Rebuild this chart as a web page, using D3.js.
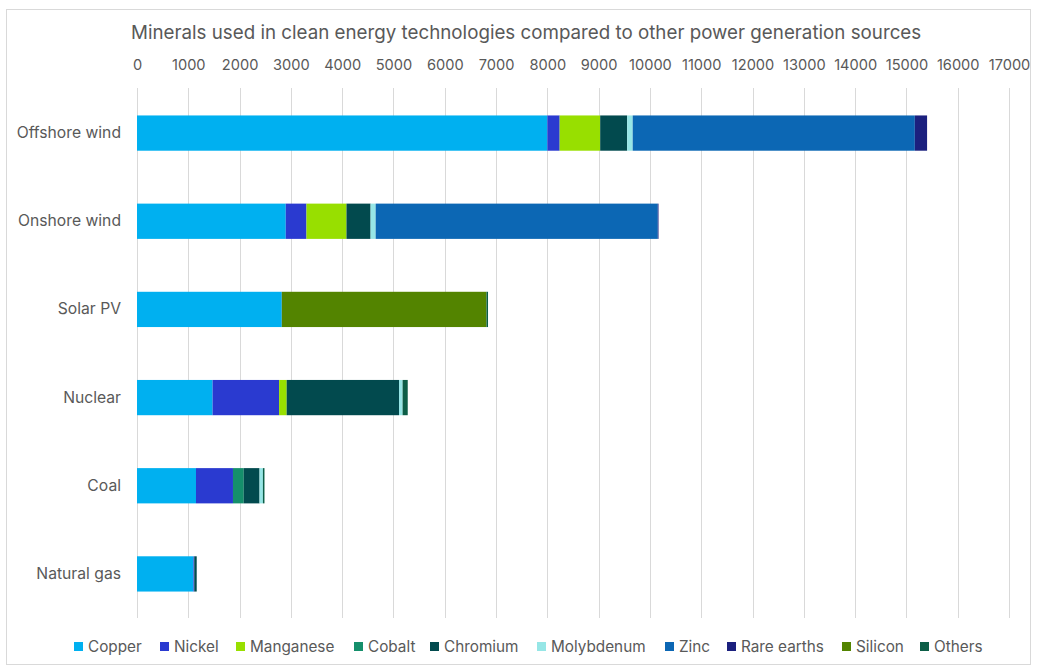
<!DOCTYPE html>
<html>
<head>
<meta charset="utf-8">
<script src="https://cdn.jsdelivr.net/npm/d3@7"></script>
<style>
  html, body { margin: 0; padding: 0; background: #fff; }
  svg text { font-family: Inter, "Noto Sans", sans-serif; fill: #595959; }
</style>
</head>
<body>
<svg id="chart" width="1037" height="667"></svg>
<script>
// Mineral intensity per power technology (kg/MW)
const categories = ["Offshore wind", "Onshore wind", "Solar PV", "Nuclear", "Coal", "Natural gas"];
const minerals = ["Copper", "Nickel", "Manganese", "Cobalt", "Chromium", "Molybdenum", "Zinc", "Rare earths", "Silicon", "Others"];
const mineralColors = ["#00B0F0", "#2A3AD0", "#98DF00", "#158F6B", "#024A4E", "#96E6E6", "#0C67B4", "#1B207E", "#538400", "#0C5E47"];

const copper     = [8000, 2900, 2822, 1473, 1150, 1100];
const nickel     = [240, 404, 1.3, 1297, 721, 16];
const manganese  = [790, 780, 0, 148, 0, 0];
const cobalt     = [0, 0, 0, 0, 210, 0];
const chromium   = [525, 470, 0, 2190, 308, 48];
const molybdenum = [109, 99, 0, 70, 66, 0];
const zinc       = [5500, 5500, 0, 0, 0, 0];
const rareEarths = [239, 14, 0, 0, 0, 0];
const silicon    = [0, 0, 3990, 0, 0, 0];
const others     = [0, 0, 30, 100, 30, 0];

const xTicks = d3.range(0, 17001, 1000);
const title = "Minerals used in clean energy technologies compared to other power generation sources";

const seriesValues = [copper, nickel, manganese, cobalt, chromium, molybdenum, zinc, rareEarths, silicon, others];
const rows = categories.map((c, i) => {
  const r = { category: c };
  minerals.forEach((m, j) => { r[m] = seriesValues[j][i]; });
  return r;
});
const stacked = d3.stack().keys(minerals)(rows);

const svg = d3.select("#chart");

// outer frame
svg.append("rect")
  .attr("x", 6.5).attr("y", 9.5)
  .attr("width", 1024).attr("height", 655)
  .attr("fill", "none").attr("stroke", "#d9d9d9");

const x = d3.scaleLinear().domain([0, 17000]).range([137, 1009]);
const y = d3.scaleBand().domain(categories).range([89, 618]).paddingInner(0.6).paddingOuter(0.3);

// vertical gridlines
svg.append("g").selectAll("line").data(xTicks).join("line")
  .attr("x1", d => Math.round(x(d)) + 0.5).attr("x2", d => Math.round(x(d)) + 0.5)
  .attr("y1", 88).attr("y2", 618)
  .attr("stroke", "#d9d9d9").attr("stroke-width", 1);

// top axis labels
const xAxis = svg.append("g")
  .attr("transform", "translate(0,70)")
  .call(d3.axisTop(x).tickValues(xTicks).tickFormat(d3.format("d")).tickSize(0).tickPadding(0));
xAxis.select(".domain").remove();
xAxis.selectAll("text").attr("font-size", 14.6).attr("fill", "#595959")
  .style("font-family", "Inter, 'Noto Sans', sans-serif");

// category labels
const yAxis = svg.append("g")
  .attr("transform", "translate(121,0)")
  .call(d3.axisLeft(y).tickSize(0).tickPadding(0));
yAxis.select(".domain").remove();
yAxis.selectAll("text").attr("font-size", 15.7).attr("fill", "#595959")
  .style("font-family", "Inter, 'Noto Sans', sans-serif");

// stacked bars
svg.append("g").selectAll("g").data(stacked).join("g")
  .attr("fill", (d, i) => mineralColors[i])
  .selectAll("rect").data(d => d.filter(s => s[1] - s[0] > 0)).join("rect")
  .attr("x", d => x(d[0]))
  .attr("width", d => x(d[1]) - x(d[0]))
  .attr("y", d => y(d.data.category))
  .attr("height", y.bandwidth());

// title
svg.append("text")
  .attr("x", 131).attr("y", 39)
  .attr("font-size", 18.75)
  .text(title);

// legend
const legendX = [74, 160, 236, 354, 430, 537, 665, 727, 842, 920];
const legend = svg.append("g").selectAll("g").data(minerals).join("g")
  .attr("transform", (d, i) => `translate(${legendX[i]},0)`);
legend.append("rect")
  .attr("x", 0).attr("y", 642).attr("width", 9).attr("height", 9)
  .attr("fill", (d, i) => mineralColors[i]);
legend.append("text")
  .attr("x", 14).attr("y", 652)
  .attr("font-size", 15.3)
  .text(d => d);
</script>
</body>
</html>
